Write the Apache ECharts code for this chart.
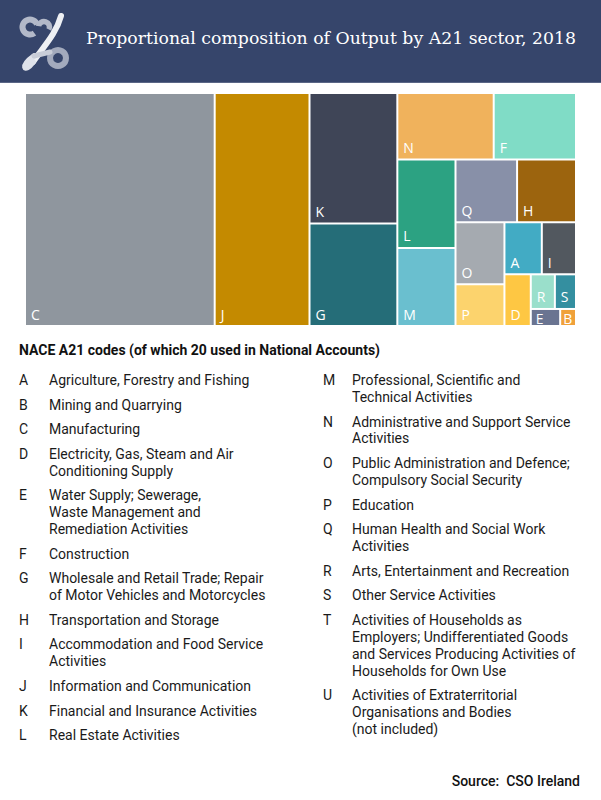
<!DOCTYPE html>
<html>
<head>
<meta charset="utf-8">
<script src="https://cdn.jsdelivr.net/npm/echarts@6/dist/echarts.min.js"></script>
<style>
  html, body { margin: 0; padding: 0; background: #ffffff; }
  #chart { width: 601px; height: 800px; }
</style>
</head>
<body>
<div id="chart"></div>
<script>
// ---- Data ----
var sectorCodes = ['C', 'J', 'K', 'G', 'N', 'F', 'L', 'M', 'Q', 'H', 'O', 'P', 'A', 'I', 'D', 'R', 'S', 'E', 'B'];
var sectorShares = [34.43, 17.21, 8.92, 7.02, 5.00, 4.27, 4.00, 3.54, 3.00, 2.87, 2.37, 1.59, 1.52, 1.39, 1.06, 0.65, 0.57, 0.39, 0.21];

var legendLeftCodes = ['A', 'B', 'C', 'D', 'E', 'F', 'G', 'H', 'I', 'J', 'K', 'L'];
var legendLeftNames = [
  'Agriculture, Forestry and Fishing',
  'Mining and Quarrying',
  'Manufacturing',
  'Electricity, Gas, Steam and Air\nConditioning Supply',
  'Water Supply; Sewerage,\nWaste Management and\nRemediation Activities',
  'Construction',
  'Wholesale and Retail Trade; Repair\nof Motor Vehicles and Motorcycles',
  'Transportation and Storage',
  'Accommodation and Food Service\nActivities',
  'Information and Communication',
  'Financial and Insurance Activities',
  'Real Estate Activities'
];
var legendRightCodes = ['M', 'N', 'O', 'P', 'Q', 'R', 'S', 'T', 'U'];
var legendRightNames = [
  'Professional, Scientific and\nTechnical Activities',
  'Administrative and Support Service\nActivities',
  'Public Administration and Defence;\nCompulsory Social Security',
  'Education',
  'Human Health and Social Work\nActivities',
  'Arts, Entertainment and Recreation',
  'Other Service Activities',
  'Activities of Households as\nEmployers; Undifferentiated Goods\nand Services Producing Activities of\nHouseholds for Own Use',
  'Activities of Extraterritorial\nOrganisations and Bodies\n(not included)'
];
var titleText = 'Proportional composition of Output by A21 sector, 2018';
var legendTitle = 'NACE A21 codes (of which 20 used in National Accounts)';
var sourceText = 'Source:  CSO Ireland';

// ---- Styles ----
var sectorColors = {
  C: '#8f969e', J: '#c48a00', K: '#3f4557', G: '#256d78', N: '#f0b25c',
  F: '#80dcc6', L: '#2ca282', M: '#6abfcf', Q: '#8890a8', H: '#9c640e',
  O: '#a5aab0', P: '#fcd36d', A: '#42abc4', I: '#52585f', D: '#fec743',
  R: '#9adfcb', S: '#348fa0', E: '#6a7491', B: '#f0a13a'
};
var tinyLabelCells = { E: [0, 0, 0, 4], B: [0, 0, 0, 2] };

var treeData = sectorCodes.map(function (c, i) {
  var item = { name: c, value: sectorShares[i], itemStyle: { color: sectorColors[c] } };
  if (tinyLabelCells[c]) {
    item.label = { padding: tinyLabelCells[c] };
  }
  return item;
});

var FONT = 'Roboto, "Open Sans", sans-serif';
var graphics = [];
// header band
graphics.push({ type: 'rect', shape: { x: 0, y: 0, width: 601, height: 82 }, style: { fill: '#36456b' }, silent: true });
graphics.push({ type: 'rect', shape: { x: 0, y: 82, width: 601, height: 1 }, style: { fill: '#5a6686' }, silent: true });
// logo (decorative)
graphics.push({ type: 'arc', shape: { cx: 30, cy: 27, r: 7.5, startAngle: Math.PI * 0.3, endAngle: Math.PI * 1.9, clockwise: true }, style: { stroke: '#b3b9c9', lineWidth: 6, fill: null }, silent: true });
graphics.push({ type: 'arc', shape: { cx: 44, cy: 27, r: 5.5, startAngle: Math.PI * 1.05, endAngle: Math.PI * 2.15, clockwise: true }, style: { stroke: '#b3b9c9', lineWidth: 5.5, fill: null }, silent: true });
graphics.push({ type: 'circle', shape: { cx: 58, cy: 58, r: 8 }, style: { stroke: '#a3aabd', lineWidth: 6, fill: null }, silent: true });
graphics.push({ type: 'bezierCurve', shape: { x1: 61, y1: 16, cpx1: 56, cpy1: 34, cpx2: 44, cpy2: 46, x2: 33, y2: 62 }, style: { stroke: '#eef0f4', lineWidth: 6, fill: null, lineCap: 'round' }, silent: true });
graphics.push({ type: 'bezierCurve', shape: { x1: 33, y1: 62, cpx1: 24, cpy1: 74, cpx2: 20, cpy2: 66, x2: 34, y2: 56 }, style: { stroke: '#dfe2ea', lineWidth: 5.5, fill: null, lineCap: 'round' }, silent: true });
graphics.push({ type: 'line', shape: { x1: 34, y1: 56, x2: 50, y2: 52 }, style: { stroke: '#c9cdd8', lineWidth: 5, lineCap: 'round' }, silent: true });
// title
graphics.push({ type: 'text', style: { text: titleText, x: 86, y: 38, fill: '#ffffff', font: '17.3px "DejaVu Serif", serif', textVerticalAlign: 'middle' }, silent: true });
// legend title
graphics.push({ type: 'text', style: { text: legendTitle, x: 19, y: 350, fill: '#111111', font: 'bold 14px ' + FONT, textVerticalAlign: 'middle' }, silent: true });

var LH = 16.9, GAP = 24.6;
function addColumn(codes, names, codeX, nameX, startY) {
  var y = startY;
  codes.forEach(function (c, i) {
    var lines = names[i].split('\n').length;
    graphics.push({ type: 'text', style: { text: c, x: codeX, y: y - LH / 2, fill: '#1a1a1a', font: '14px ' + FONT, lineHeight: LH, textVerticalAlign: 'top' }, silent: true });
    graphics.push({ type: 'text', style: { text: names[i], x: nameX, y: y - LH / 2, fill: '#1a1a1a', font: '14px ' + FONT, lineHeight: LH, textVerticalAlign: 'top' }, silent: true });
    y += (lines - 1) * LH + GAP;
  });
}
addColumn(legendLeftCodes, legendLeftNames, 19, 49, 380);
addColumn(legendRightCodes, legendRightNames, 323, 352, 380);
// source
graphics.push({ type: 'text', style: { text: sourceText, x: 580, y: 781, fill: '#111111', font: '500 14px ' + FONT, textAlign: 'right', textVerticalAlign: 'middle' }, silent: true });

var chart = echarts.init(document.getElementById('chart'), null, { renderer: 'svg', width: 601, height: 800 });
chart.setOption({
  animation: false,
  backgroundColor: '#ffffff',
  graphic: graphics,
  series: [{
    type: 'treemap',
    left: 26, top: 94, width: 549, height: 231,
    roam: false,
    nodeClick: false,
    breadcrumb: { show: false },
    squareRatio: 0.84,
    sort: 'desc',
    label: {
      show: true,
      position: 'insideBottomLeft',
      color: '#ffffff',
      fontSize: 14,
      fontFamily: '"Open Sans", sans-serif',
      padding: [0, 0, 4, 5],
      overflow: 'none',
      formatter: '{b}'
    },
    upperLabel: { show: false },
    itemStyle: { borderWidth: 0, gapWidth: 2 },
    levels: [{ itemStyle: { borderWidth: 0, gapWidth: 2 } }],
    data: treeData
  }]
});
</script>
</body>
</html>
